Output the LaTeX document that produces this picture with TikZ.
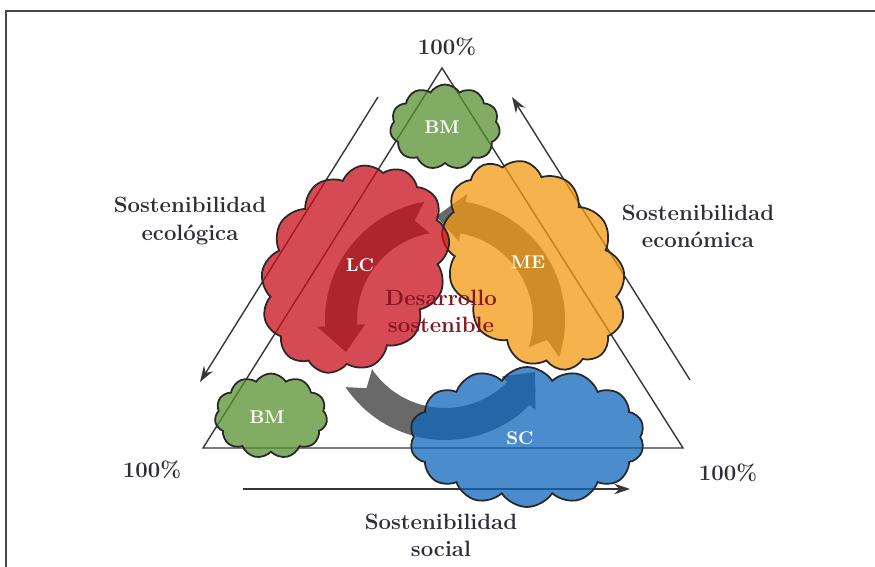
\documentclass[tikz,border=0pt]{standalone}
\usetikzlibrary{arrows.meta,shapes.symbols}
\definecolor{framegray}{RGB}{70,70,70}
\definecolor{linegray}{RGB}{55,55,55}
\definecolor{labelgray}{RGB}{45,45,60}
\definecolor{ringgray}{RGB}{105,105,105}
\definecolor{bmgreen}{RGB}{88,144,48}
\definecolor{lcred}{RGB}{200,14,27}
\definecolor{meorange}{RGB}{243,152,16}
\definecolor{scblue}{RGB}{15,103,187}
\definecolor{dsred}{RGB}{135,22,32}
\definecolor{cloudline}{RGB}{40,40,40}
% one piece of the ring: tail angle, head angle
\def\ringarrow(#1:#2){\fill[ringgray] (#1:120) arc (#1:#2+15:120) -- (#2+15:128) -- (#2:104) -- (#2+15:80) -- (#2+15:88) arc (#2+15:#1:88) -- (#1-7:104) -- cycle;}
\tikzset{
  blob/.style={cloud, cloud puffs=13, cloud puff arc=115, cloud ignores aspect, draw=cloudline, line width=1pt, fill opacity=0.75, inner sep=0pt},
  blobtext/.style={text=white, font=\bfseries\fontsize{10.5}{12}\selectfont},
  labeltext/.style={text=labelgray, font=\bfseries\fontsize{12.6}{15.4}\selectfont, align=center},
  sidearrow/.style={linegray, line width=0.8pt, -{Stealth[length=9pt,width=6pt]}}
}
\begin{document}
\begin{tikzpicture}[x=0.02cm,y=-0.02cm]
	%%%%% START %%%%%
	\useasboundingbox (0,0) rectangle (875,567);
	\draw[framegray, line width=1.2pt] (6,567) -- (6,11) -- (875,11);
	
	\coordinate (apex) at (442,68);
	\coordinate (lft) at (203,448);
	\coordinate (rgt) at (683,448);
	\draw[linegray, line width=0.8pt, line join=miter] (apex) -- (lft) -- (rgt) -- cycle;
	
	\coordinate (ecotop) at (378,97);
	\coordinate (ecoend) at (200,382);
	\coordinate (econstart) at (690,380);
	\coordinate (econend) at (512,97);
	\coordinate (socstart) at (243,489);
	\coordinate (socend) at (630,489);
	\draw[sidearrow] (ecotop) -- (ecoend);
	\draw[sidearrow] (econstart) -- (econend);
	\draw[sidearrow] (socstart) -- (socend);
	
	% ring under the clouds
	\begin{scope}[shift={(445,320)}]
		\ringarrow(-100:-198)
		\ringarrow(18:-95)
		\ringarrow(146:30)
	\end{scope}
	
	\node[blob, fill=scblue, cloud puffs=14, minimum width=4.7cm, minimum height=2.8cm] (sc) at (527,437) {};
	\node[blob, fill=meorange, rotate=-58, minimum width=4.5cm, minimum height=3.3cm] (me) at (534,265) {};
	\node[blob, fill=lcred, rotate=58, minimum width=4.4cm, minimum height=3.5cm] (lc) at (355,269) {};
	\node[blob, fill=bmgreen, cloud puffs=11, minimum width=2.2cm, minimum height=1.7cm] (bmtop) at (445,127) {};
	\node[blob, fill=bmgreen, cloud puffs=11, minimum width=2.25cm, minimum height=1.7cm] (bmleft) at (271,416) {};
	
	\node[blobtext] (bmtoptext) at (442,127) {BM};
	\node[blobtext] (bmlefttext) at (267,417) {BM};
	\node[blobtext] (lctext) at (360,265) {LC};
	\node[blobtext] (metext) at (528,262) {ME};
	\node[blobtext] (sctext) at (520,438) {SC};
	
	\node[labeltext, text=dsred] (desarrollo) at (441,311) {Desarrollo\\sostenible};
	
	\node[labeltext] (toppct) at (447,47) {100\%};
	\node[labeltext] (leftpct) at (152,470) {100\%};
	\node[labeltext] (rightpct) at (728,473) {100\%};
	\node[labeltext] (ecolabel) at (190,221) {Sostenibilidad\\ecológica};
	\node[labeltext] (econlabel) at (698,226) {Sostenibilidad\\económica};
	\node[labeltext] (soclabel) at (441,535) {Sostenibilidad\\social};
	%%%%% END %%%%%
\end{tikzpicture}
\end{document}
